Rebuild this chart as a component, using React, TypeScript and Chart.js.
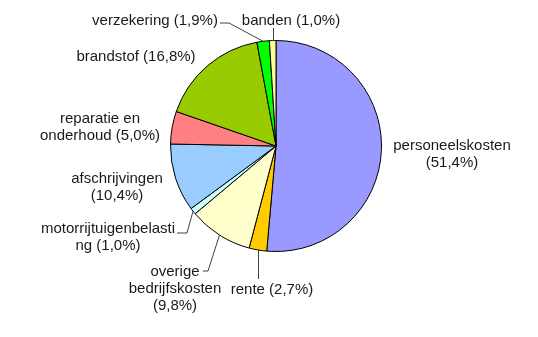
import React, { useEffect, useRef } from "react";
import { Chart, registerables } from "chart.js";

Chart.register(...registerables);

const categories = [
  "personeelskosten",
  "rente",
  "overige bedrijfskosten",
  "motorrijtuigenbelasting",
  "afschrijvingen",
  "reparatie en onderhoud",
  "brandstof",
  "verzekering",
  "banden",
];

const values = [51.4, 2.7, 9.8, 1.0, 10.4, 5.0, 16.8, 1.9, 1.0];

const sliceLabelLines = [
  ["personeelskosten", "(51,4%)"],
  ["rente (2,7%)"],
  ["overige", "bedrijfskosten", "(9,8%)"],
  ["motorrijtuigenbelasti", "ng (1,0%)"],
  ["afschrijvingen", "(10,4%)"],
  ["reparatie en", "onderhoud (5,0%)"],
  ["brandstof (16,8%)"],
  ["verzekering (1,9%)"],
  ["banden (1,0%)"],
];

const colors = [
  "#9999FF",
  "#FFCC00",
  "#FFFFCC",
  "#CCFFFF",
  "#99CCFF",
  "#FF8080",
  "#99CC00",
  "#00FF00",
  "#FFFF99",
];

// label layout: center x, first-line y, leader anchor points (null = no leader), vertical leaders use arc x
type LabelLayout = { x: number; y: number; leader: number[][] | null; vertical?: number };
const labelLayout: LabelLayout[] = [
  { x: 452, y: 146, leader: null },
  { x: 272, y: 290, leader: null, vertical: 279 },
  { x: 175, y: 272, leader: [[203, 271], [208, 271]] },
  { x: 108, y: 229, leader: [[177, 233], [187, 233]] },
  { x: 117, y: 179, leader: null },
  { x: 100, y: 119, leader: null },
  { x: 136, y: 57, leader: null },
  { x: 155, y: 21, leader: [[220, 23], [229, 23]] },
  { x: 291, y: 21, leader: null, vertical: 28 },
];

const FONT = '15px "Liberation Sans", Arial, sans-serif';
const LINE_H = 17;

const labelPlugin = {
  id: "sliceLabels",
  afterDatasetsDraw(chart: any) {
    const ctx = chart.ctx;
    const meta = chart.getDatasetMeta(0);
    ctx.save();
    ctx.font = FONT;
    ctx.fillStyle = "#1a1a1a";
    ctx.textAlign = "center";
    ctx.textBaseline = "middle";
    meta.data.forEach((arc: any, i: number) => {
      const p = arc.getProps(["x", "y", "startAngle", "endAngle", "outerRadius"], true);
      const mid = (p.startAngle + p.endAngle) / 2;
      const ax = p.x + p.outerRadius * Math.cos(mid);
      const ay = p.y + p.outerRadius * Math.sin(mid);
      const lay = labelLayout[i];
      ctx.strokeStyle = "#404040";
      ctx.lineWidth = 1;
      if (lay.leader) {
        ctx.beginPath();
        ctx.moveTo(lay.leader[0][0], lay.leader[0][1]);
        for (let k = 1; k < lay.leader.length; k++) ctx.lineTo(lay.leader[k][0], lay.leader[k][1]);
        ctx.lineTo(ax, ay);
        ctx.stroke();
      } else if (lay.vertical !== undefined) {
        const vx = Math.round(ax) + 0.5;
        ctx.beginPath();
        ctx.moveTo(vx, lay.vertical);
        ctx.lineTo(vx, ay);
        ctx.stroke();
      }
      sliceLabelLines[i].forEach((line, k) => {
        ctx.fillText(line, lay.x, lay.y + k * LINE_H);
      });
    });
    ctx.restore();
  },
};

export default function App() {
  const ref = useRef<HTMLCanvasElement>(null);
  useEffect(() => {
    document.body.style.margin = "0";
    const chart = new Chart(ref.current!, {
      type: "pie",
      data: {
        labels: categories,
        datasets: [
          {
            data: values,
            backgroundColor: colors,
            borderColor: "#000000",
            borderWidth: 1,
          },
        ],
      },
      options: {
        animation: false,
        responsive: false,
        events: [],
        layout: { padding: { left: 170, right: 156, top: 40, bottom: 85 } },
        plugins: { legend: { display: false }, tooltip: { enabled: false } },
      },
      plugins: [labelPlugin],
    });
    return () => chart.destroy();
  }, []);
  return (
    <div style={{ width: 538, height: 337, background: "#fff" }}>
      <canvas ref={ref} width={538} height={337} />
    </div>
  );
}
